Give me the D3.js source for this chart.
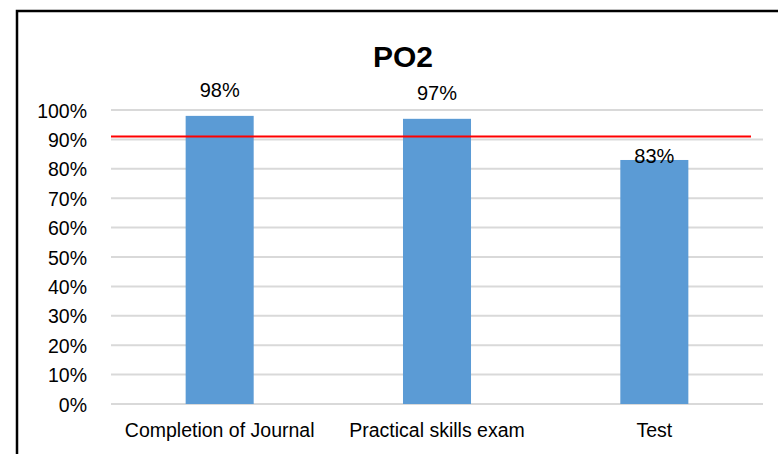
<!DOCTYPE html>
<html lang="en">
<head>
<meta charset="UTF-8">
<title>PO2</title>
<script src="https://cdn.jsdelivr.net/npm/d3@7"></script>
<style>
body { margin: 0; background: #fff; }
svg { display: block; font-family: 'Liberation Sans', Arial, sans-serif; }
</style>
</head>
<body>
<svg id="chart" width="778" height="454"></svg>
<script>
// chart data
const categories = ["Completion of Journal", "Practical skills exam", "Test"];
const values = [0.98, 0.97, 0.83];
const yTicks = [0, 0.1, 0.2, 0.3, 0.4, 0.5, 0.6, 0.7, 0.8, 0.9, 1.0];
const target = 0.91;
const title = "PO2";

const svg = d3.select("#chart");
const W = 778, H = 454;
const plot = { left: 111, right: 763, top: 110, bottom: 404 };

svg.append("rect").attr("width", W).attr("height", H).attr("fill", "#fff");

// outer chart border (runs off the picture on right and bottom)
svg.append("rect")
    .attr("x", 17).attr("y", 11)
    .attr("width", 800).attr("height", 500)
    .attr("fill", "none").attr("stroke", "#000").attr("stroke-width", 2.5);

const x = d3.scaleBand()
    .domain(categories)
    .range([plot.left, plot.right])
    .paddingInner(0.687)
    .paddingOuter(0.3435);

const y = d3.scaleLinear().domain([0, 1]).range([plot.bottom, plot.top]);

// gridlines
svg.append("g").selectAll("line")
    .data(yTicks)
    .join("line")
    .attr("x1", plot.left).attr("x2", plot.right)
    .attr("y1", d => y(d)).attr("y2", d => y(d))
    .attr("stroke", "#d9d9d9").attr("stroke-width", 2);

// y axis labels
const yAxis = d3.axisLeft(y)
    .tickValues(yTicks)
    .tickFormat(d3.format(".0%"))
    .tickSize(0)
    .tickPadding(0);
svg.append("g")
    .attr("transform", `translate(87,0)`)
    .call(yAxis)
    .call(g => g.select(".domain").remove())
    .selectAll("text")
    .attr("font-size", 19.5)
    .attr("font-family", "'Liberation Sans', Arial, sans-serif")
    .attr("fill", "#000")
    .attr("dy", "0.36em");

// bars
svg.append("g").selectAll("rect")
    .data(values)
    .join("rect")
    .attr("x", (d, i) => x(categories[i]))
    .attr("width", x.bandwidth())
    .attr("y", d => y(d))
    .attr("height", d => y(0) - y(d))
    .attr("fill", "#5b9bd5");

// target line
svg.append("line")
    .attr("x1", plot.left).attr("x2", plot.right - 12)
    .attr("y1", y(target)).attr("y2", y(target))
    .attr("stroke", "#ff0000").attr("stroke-width", 2);

// value labels: the last one was nudged down past the red line
const labelDy = [-19, -19, 3];
svg.append("g").selectAll("text")
    .data(values)
    .join("text")
    .attr("x", (d, i) => x(categories[i]) + x.bandwidth() / 2)
    .attr("y", (d, i) => y(d) + labelDy[i])
    .attr("text-anchor", "middle")
    .attr("font-size", 20)
    .attr("fill", "#000")
    .text(d => d3.format(".0%")(d));

// x axis labels
const xAxis = d3.axisBottom(x).tickSize(0).tickPadding(0);
svg.append("g")
    .attr("transform", `translate(0,437)`)
    .call(xAxis)
    .call(g => g.select(".domain").remove())
    .selectAll("text")
    .attr("font-size", 19.5)
    .attr("font-family", "'Liberation Sans', Arial, sans-serif")
    .attr("fill", "#000")
    .attr("dy", 0);

// title
svg.append("text")
    .attr("x", 403).attr("y", 67)
    .attr("text-anchor", "middle")
    .attr("font-size", 30)
    .attr("font-weight", "bold")
    .attr("fill", "#000")
    .text(title);
</script>
</body>
</html>
